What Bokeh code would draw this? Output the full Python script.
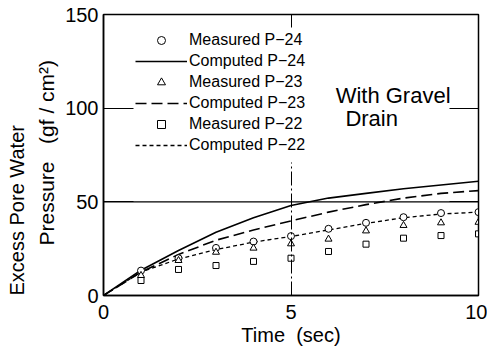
from bokeh.plotting import figure
from bokeh.models import (Range1d, LinearAxis, FixedTicker, Span, Label, Legend, LegendItem,
                          ColumnDataSource, Title)
from bokeh.embed import file_html
from bokeh.resources import INLINE

# ---- data ----
time_computed = [0, 1, 2, 3, 4, 5, 6, 7, 8, 9, 10]
computed_p24 = [0, 13.5, 24.0, 33.8, 41.5, 48.0, 52.0, 54.5, 57.0, 59.0, 61.0]
computed_p23 = [0, 12.5, 21.9, 29.5, 35.0, 39.8, 44.5, 48.5, 52.0, 54.5, 56.0]
computed_p22 = [0, 12.5, 19.5, 24.5, 28.5, 31.5, 35.0, 38.5, 41.5, 43.5, 44.5]

time_measured = [1, 2, 3, 4, 5, 6, 7, 8, 9, 10]
measured_p24 = [13.3, 19.9, 25.4, 28.8, 31.7, 35.6, 38.8, 41.8, 44.0, 44.5]
measured_p23 = [10.7, 18.7, 23.1, 25.3, 27.6, 30.1, 34.5, 37.4, 38.8, 39.1]
measured_p22 = [8.0, 13.9, 16.0, 18.2, 19.9, 23.5, 27.4, 30.6, 32.0, 32.9]

x_ticks = [0, 5, 10]
y_ticks = [0, 50, 100, 150]
ref_level = 50

FONT = "Liberation Sans"
NB = "\u00a0"

p = figure(width=487, height=349, output_backend="svg", toolbar_location=None,
           x_range=Range1d(0, 10), y_range=Range1d(0, 150),
           min_border_left=103, min_border_right=9, min_border_top=14, min_border_bottom=54,
           x_axis_label="Time" + NB + NB + "(sec)")
p.grid.visible = False
p.outline_line_color = "black"
p.outline_line_width = 1.5
p.background_fill_color = "white"
p.border_fill_color = "white"

xa = p.xaxis[0]
xa.ticker = FixedTicker(ticks=x_ticks)
xa.major_tick_in = 133
xa.major_tick_out = 0
xa.major_tick_line_dash = "14 3 2 3"
xa.major_tick_line_color = "black"
xa.minor_tick_line_color = None
xa.axis_line_color = "black"
xa.axis_line_width = 1.5
xa.major_label_text_font = FONT
xa.major_label_text_font_size = "20px"
xa.major_label_text_color = "black"
xa.major_label_standoff = 9
xa.axis_label_text_font = FONT
xa.axis_label_text_font_size = "20px"
xa.axis_label_text_font_style = "normal"
xa.axis_label_text_color = "black"
xa.axis_label_standoff = 2

ya = p.yaxis[0]
ya.ticker = FixedTicker(ticks=y_ticks)
ya.major_tick_in = 30
ya.major_tick_out = 0
ya.major_tick_line_color = "black"
ya.minor_tick_line_color = None
ya.axis_line_color = "black"
ya.axis_line_width = 1.5
ya.major_label_text_font = FONT
ya.major_label_text_font_size = "20px"
ya.major_label_text_color = "black"
ya.major_label_standoff = 5

ra = LinearAxis(ticker=FixedTicker(ticks=[50, 100]), major_tick_in=29, major_tick_out=0,
                minor_tick_line_color=None, major_label_overrides={50: "", 100: ""},
                major_label_text_font_size="1px", axis_line_color="black", major_label_standoff=0)
p.add_layout(ra, "right")
ta = LinearAxis(ticker=FixedTicker(ticks=[5]), major_tick_in=13, major_tick_out=0,
                minor_tick_line_color=None, major_label_overrides={5: ""},
                major_label_text_font_size="1px", axis_line_color="black", major_label_standoff=0)
p.add_layout(ta, "above")

# y-axis title in two lines
p.add_layout(Title(text="Pressure" + NB + NB + NB + "(gf / cm\u00b2)", align="left", offset=50,
                   standoff=9, text_font=FONT, text_font_size="21px", text_font_style="normal",
                   text_color="black"), "left")
p.add_layout(Title(text="Excess Pore Water", align="left", offset=0, standoff=2,
                   text_font=FONT, text_font_size="20px", text_font_style="normal",
                   text_color="black"), "left")

p.add_layout(Span(location=ref_level, dimension="width", line_color="black", line_width=1.3))

src_c = ColumnDataSource(dict(t=time_computed, p24=computed_p24, p23=computed_p23, p22=computed_p22))
src_m = ColumnDataSource(dict(t=time_measured, p24=measured_p24, p23=measured_p23, p22=measured_p22))

r_c24 = p.line("t", "p24", source=src_c, line_color="black", line_width=1.6)
r_c23 = p.line("t", "p23", source=src_c, line_color="black", line_width=1.6, line_dash="11 5")
r_c22 = p.line("t", "p22", source=src_c, line_color="black", line_width=1.3, line_dash="4 3")
r_m24 = p.scatter("t", "p24", source=src_m, marker="circle", size=7, fill_color="white",
                  line_color="black", line_width=1)
r_m23 = p.scatter("t", "p23", source=src_m, marker="triangle", size=7, fill_color="white",
                  line_color="black", line_width=1)
r_m22 = p.scatter("t", "p22", source=src_m, marker="square", size=6, fill_color="white",
                  line_color="black", line_width=1)

legend = Legend(items=[
    LegendItem(label="Measured P\u221224", renderers=[r_m24]),
    LegendItem(label="Computed P\u221224", renderers=[r_c24]),
    LegendItem(label="Measured P\u221223", renderers=[r_m23]),
    LegendItem(label="Computed P\u221223", renderers=[r_c23]),
    LegendItem(label="Measured P\u221222", renderers=[r_m22]),
    LegendItem(label="Computed P\u221222", renderers=[r_c22]),
], location=(32, 140), glyph_width=52, glyph_height=20, spacing=1, padding=0, margin=0,
   label_standoff=2, label_text_font=FONT, label_text_font_size="16px", label_text_color="black",
   border_line_alpha=0, background_fill_alpha=0, label_height=20)
p.add_layout(legend)

p.add_layout(Label(x=6.19, y=106.8, text="With Gravel", text_font=FONT, text_font_size="22px",
                   text_baseline="middle", text_align="left", text_color="black"))
p.add_layout(Label(x=6.45, y=94.5, text="Drain", text_font=FONT, text_font_size="22px",
                   text_baseline="middle", text_align="left", text_color="black"))

open("out.html", "w").write(file_html(p, INLINE))
